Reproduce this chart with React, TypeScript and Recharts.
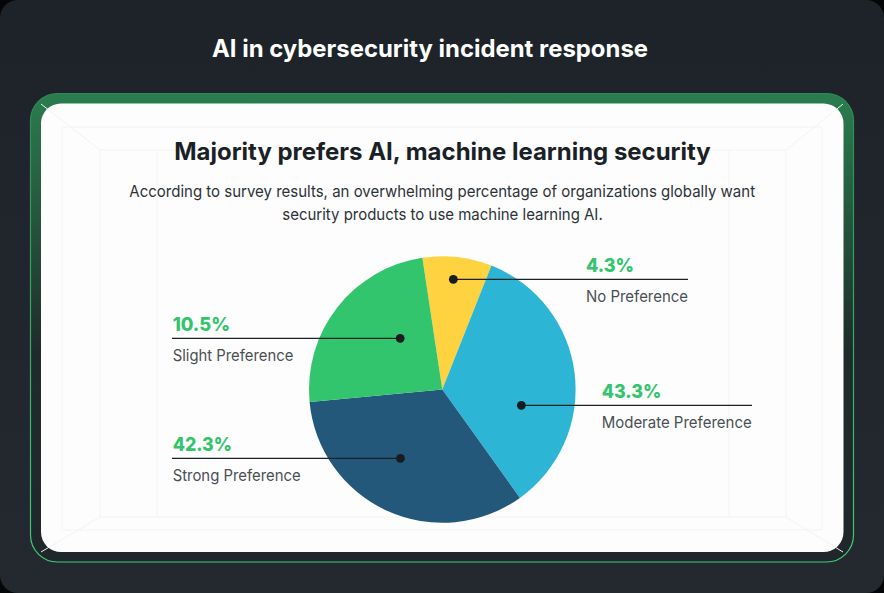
import React from 'react';
import { PieChart, Pie, Cell } from 'recharts';

// ---- data ----
const SLICE_NAMES = ['No Preference', 'Moderate Preference', 'Strong Preference', 'Slight Preference'];
const SLICE_VALUES = [8.4, 34.1, 33.4, 24.1];
const LABEL_PERCENTS = ['4.3%', '43.3%', '42.3%', '10.5%'];
const SLICE_COLORS = ['#FED33F', '#2CB5D4', '#23587A', '#33C46E'];

const TITLE = 'AI in cybersecurity incident response';
const SUBTITLE = 'Majority prefers AI, machine learning security';
const DESC_1 = 'According to survey results, an overwhelming percentage of organizations globally want';
const DESC_2 = 'security products to use machine learning AI.';

// ---- label layout (relative to pie centre) ----
const LABEL_LAYOUT = [
  { side: 'right', nudge: 0.8, rFrac: 0.831, textDx: 143.7, lineDx: 245.7, pctW: 48, nameW: 102 },
  { side: 'right', nudge: -18.3, rFrac: 0.605, textDx: 159.4, lineDx: 309.7, pctW: 59.6, nameW: 150 },
  { side: 'left', nudge: -6.75, rFrac: 0.605, textDx: -269.6, lineDx: -270.3, pctW: 59.3, nameW: 128 },
  { side: 'left', nudge: -12.5, rFrac: 0.497, textDx: -269.6, lineDx: -270.3, pctW: 57.3, nameW: 120.6 },
];

const chartData = SLICE_NAMES.map((name, i) => ({ name, value: SLICE_VALUES[i], pct: LABEL_PERCENTS[i] }));

const renderLabel = (props: any) => {
  const { cx, cy, midAngle, outerRadius, index } = props;
  const L = LABEL_LAYOUT[index];
  const a = ((midAngle + L.nudge) * Math.PI) / 180;
  const r = outerRadius * L.rFrac;
  const px = cx + r * Math.cos(a);
  const py = cy - r * Math.sin(a);
  const x1 = L.side === 'right' ? px : cx + L.lineDx;
  const x2 = L.side === 'right' ? cx + L.lineDx : px;
  const tx = cx + L.textDx;
  return (
    <g key={`lbl-${index}`}>
      <line x1={x1} y1={py} x2={x2} y2={py} stroke="#1b2125" strokeWidth={1.3} />
      <circle cx={px} cy={py} r={4.4} fill="#161c20" />
      <text
        x={tx}
        y={py - 7.5}
        fill="#33C46C"
        fontFamily="Inter, 'Noto Sans', sans-serif"
        fontWeight={800}
        fontSize={19}
        textLength={L.pctW}
        lengthAdjust="spacingAndGlyphs"
      >
        {LABEL_PERCENTS[index]}
      </text>
      <text
        x={tx}
        y={py + 23}
        fill="#4a4f54"
        fontFamily="Inter, 'Noto Sans', sans-serif"
        fontWeight={400}
        fontSize={16}
        textLength={L.nameW}
        lengthAdjust="spacingAndGlyphs"
      >
        {SLICE_NAMES[index]}
      </text>
    </g>
  );
};

const Background = () => (
  <svg width={884} height={593} style={{ position: 'absolute', left: 0, top: 0 }}>
    <defs>
      <linearGradient id="bg" x1="0" y1="0" x2="0" y2="1">
        <stop offset="0%" stopColor="#1d2328" />
        <stop offset="100%" stopColor="#23292e" />
      </linearGradient>
      <linearGradient id="frameFill" x1="0" y1="0" x2="0" y2="1">
        <stop offset="0%" stopColor="#2a7d4f" />
        <stop offset="25%" stopColor="#25583e" />
        <stop offset="55%" stopColor="#1f2b2a" />
        <stop offset="100%" stopColor="#20272b" />
      </linearGradient>
      <linearGradient id="frameStroke" x1="0" y1="0" x2="0" y2="1">
        <stop offset="0%" stopColor="#2c8a55" />
        <stop offset="100%" stopColor="#3fcb7a" />
      </linearGradient>
    </defs>
    <rect x={0} y={0} width={884} height={593} fill="#050607" />
    <rect x={0} y={0} width={884} height={593} rx={18} fill="url(#bg)" />
    <rect x={30.5} y={93.5} width={823} height={468.5} rx={27} fill="url(#frameFill)" stroke="url(#frameStroke)" strokeWidth={1.2} />
    <rect x={41} y={103.5} width={802.5} height={448.5} rx={20} fill="#fdfdfd" />
    <g stroke="#f3f3f3" strokeWidth={1} fill="none">
      <rect x={62} y={127} width={760} height={403} />
      <rect x={100} y={150} width={686} height={367} />
      <line x1={41} y1={104} x2={100} y2={150} />
      <line x1={843} y1={104} x2={786} y2={150} />
      <line x1={41} y1={552} x2={100} y2={517} />
      <line x1={843} y1={552} x2={786} y2={517} />
      <line x1={157} y1={150} x2={157} y2={517} />
      <line x1={729} y1={150} x2={729} y2={517} />
    </g>
    <text
      x={430}
      y={56.7}
      textAnchor="middle"
      fill="#ffffff"
      fontFamily="Inter, 'Noto Sans', sans-serif"
      fontWeight={700}
      fontSize={24}
      textLength={436}
      lengthAdjust="spacingAndGlyphs"
    >
      {TITLE}
    </text>
    <text
      x={442.5}
      y={160}
      textAnchor="middle"
      fill="#1a2126"
      fontFamily="Inter, 'Noto Sans', sans-serif"
      fontWeight={700}
      fontSize={24}
      textLength={536.5}
      lengthAdjust="spacingAndGlyphs"
    >
      {SUBTITLE}
    </text>
    <text
      x={442.2}
      y={196.7}
      textAnchor="middle"
      fill="#2c3338"
      fontFamily="Inter, 'Noto Sans', sans-serif"
      fontWeight={400}
      fontSize={16.5}
      textLength={625.7}
      lengthAdjust="spacingAndGlyphs"
    >
      {DESC_1}
    </text>
    <text
      x={442.5}
      y={220}
      textAnchor="middle"
      fill="#2c3338"
      fontFamily="Inter, 'Noto Sans', sans-serif"
      fontWeight={400}
      fontSize={16.5}
      textLength={320.4}
      lengthAdjust="spacingAndGlyphs"
    >
      {DESC_2}
    </text>
  </svg>
);

export default function App() {
  return (
    <div style={{ position: 'absolute', left: 0, top: 0, width: 884, height: 593, overflow: 'hidden' }}>
      <Background />
      <div style={{ position: 'absolute', left: 0, top: 0 }}>
        <PieChart width={884} height={593} margin={{ top: 0, right: 0, bottom: 0, left: 0 }}>
          <Pie
            data={chartData}
            dataKey="value"
            nameKey="name"
            cx={442.3}
            cy={389.5}
            outerRadius={133.3}
            startAngle={98.6}
            endAngle={-261.4}
            stroke="none"
            isAnimationActive={false}
            labelLine={false}
            label={renderLabel}
          >
            {chartData.map((d, i) => (
              <Cell key={d.name} fill={SLICE_COLORS[i]} />
            ))}
          </Pie>
        </PieChart>
      </div>
    </div>
  );
}
